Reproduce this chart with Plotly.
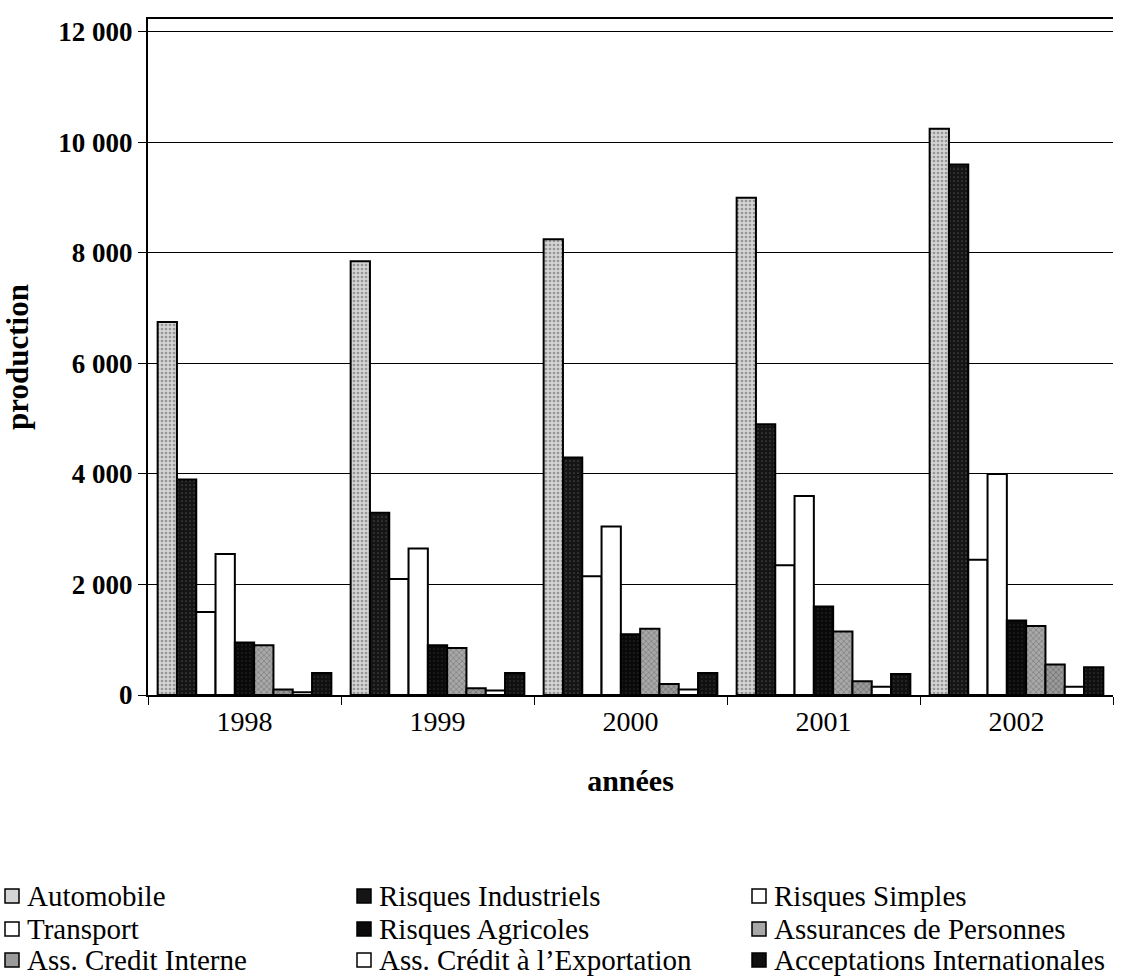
import plotly.graph_objects as go

# Production by insurance branch, 1998-2002
years = ["1998", "1999", "2000", "2001", "2002"]

automobile = [6750, 7850, 8250, 9000, 10250]
risques_industriels = [3900, 3300, 4300, 4900, 9600]
risques_simples = [1500, 2100, 2150, 2350, 2450]
transport = [2550, 2650, 3050, 3600, 4000]
risques_agricoles = [950, 900, 1100, 1600, 1350]
assurances_personnes = [900, 850, 1200, 1150, 1250]
credit_interne = [100, 120, 200, 250, 550]
credit_exportation = [50, 80, 100, 150, 150]
acceptations_internationales = [400, 400, 400, 380, 500]

series_names = [
    "Automobile",
    "Risques Industriels",
    "Risques Simples",
    "Transport",
    "Risques Agricoles",
    "Assurances de Personnes",
    "Ass. Credit Interne",
    "Ass. Crédit à l’Exportation",
    "Acceptations Internationales",
]
series_values = [
    automobile,
    risques_industriels,
    risques_simples,
    transport,
    risques_agricoles,
    assurances_personnes,
    credit_interne,
    credit_exportation,
    acceptations_internationales,
]

SERIF = "Liberation Serif"

# fill style per series: (background, pattern shape, pattern colour, solidity)
styles = [
    ("#d4d4d4", ".", "#555555", 0.35),
    ("#151515", ".", "#777777", 0.15),
    ("#ffffff", "", "#000000", 0.0),
    ("#ffffff", "", "#000000", 0.0),
    ("#0a0a0a", ".", "#555555", 0.10),
    ("#a8a8a8", "x", "#444444", 0.30),
    ("#9a9a9a", "x", "#333333", 0.30),
    ("#ffffff", "", "#000000", 0.0),
    ("#101010", ".", "#666666", 0.12),
]

fig = go.Figure()
for i, (name, vals) in enumerate(zip(series_names, series_values)):
    bg, shape, fg, sol = styles[i]
    marker = dict(color=bg, line=dict(color="#000000", width=2))
    if shape:
        marker["pattern"] = dict(shape=shape, fgcolor=fg, bgcolor=bg,
                                 size=4, solidity=sol, fillmode="overlay")
    fig.add_trace(go.Bar(x=years, y=vals, name=name, marker=marker,
                         showlegend=False))

W, H = 1128, 979
ML, MR, MT, MB = 148, 15, 19, 284
plot_w = W - ML - MR
plot_h = H - MT - MB


def px_to_paper_x(px):
    return (px - ML) / plot_w


def px_to_paper_y(py):
    return (H - MB - py) / plot_h


# key below the chart: three columns filled row by row
key_cols_px = [5, 357, 752]
key_rows_px = [896, 929, 960]
swatch = 14
shapes = []
annotations = []
for i, name in enumerate(series_names):
    cx = key_cols_px[i % 3]
    cy = key_rows_px[i // 3]
    shapes.append(dict(
        type="rect", xref="paper", yref="paper",
        x0=px_to_paper_x(cx), x1=px_to_paper_x(cx + swatch),
        y0=px_to_paper_y(cy + swatch / 2), y1=px_to_paper_y(cy - swatch / 2),
        fillcolor=styles[i][0], line=dict(color="#000000", width=1.5),
    ))
    annotations.append(dict(
        text=name, xref="paper", yref="paper",
        x=px_to_paper_x(cx + swatch + 6), y=px_to_paper_y(cy),
        xanchor="left", yanchor="middle", showarrow=False,
        font=dict(family=SERIF, size=29, color="#000000"),
    ))

fig.update_layout(
    width=W, height=H,
    margin=dict(l=ML, r=MR, t=MT, b=MB),
    paper_bgcolor="#ffffff",
    plot_bgcolor="#ffffff",
    separators=", ",
    barmode="group",
    bargap=0.1,
    bargroupgap=0.0,
    showlegend=False,
    font=dict(family=SERIF, color="#000000"),
    shapes=shapes,
    annotations=annotations,
    xaxis=dict(
        type="category",
        automargin=False,
        tickson="boundaries",
        ticks="outside",
        ticklen=8,
        tickcolor="#000000",
        showline=True,
        linecolor="#000000",
        linewidth=2,
        mirror=True,
        showgrid=False,
        tickfont=dict(family=SERIF, size=28, color="#000000"),
        title=dict(text="<b>années</b>", font=dict(family=SERIF, size=30),
                   standoff=34),
    ),
    yaxis=dict(
        automargin=False,
        range=[0, 12235],
        tickvals=[0, 2000, 4000, 6000, 8000, 10000, 12000],
        tickformat=",d",
        ticks="outside",
        ticklen=8,
        tickcolor="#000000",
        showline=True,
        linecolor="#000000",
        linewidth=2,
        showgrid=True,
        gridcolor="#000000",
        gridwidth=1.2,
        zeroline=False,
        tickfont=dict(family=SERIF, size=27, color="#000000", weight="bold"),
        title=dict(text="<b>production</b>", font=dict(family=SERIF, size=31),
                   standoff=26),
    ),
)

fig.write_html("out.html")
